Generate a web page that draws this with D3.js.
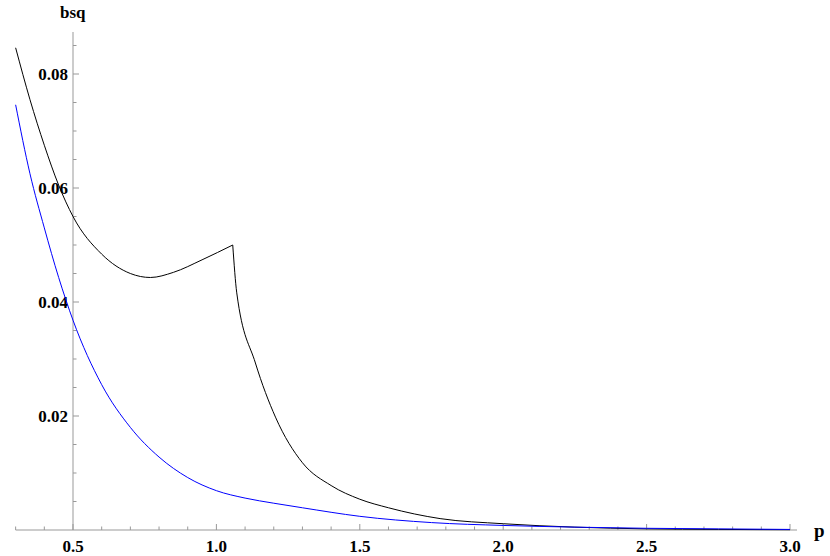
<!DOCTYPE html>
<meta charset="utf-8">
<title>bsq vs p</title>
<style>
body { margin: 0; background: #fff; }
text { font-family: "Liberation Serif", serif; font-weight: bold; }
</style>
<svg id="chart" width="830" height="556"></svg>
<script src="https://cdn.jsdelivr.net/npm/d3@7"></script>
<script>

// values
var blueP = [0.3, 0.35, 0.4, 0.45, 0.5, 0.6, 0.7, 0.8, 0.9, 1.0, 1.1, 1.2, 1.3, 1.5, 1.75, 2.0, 2.25, 2.5, 2.75, 3.0];
var blueB = [0.0746, 0.0625, 0.0530, 0.0443, 0.0368, 0.0255, 0.0180, 0.0128, 0.0092, 0.0069, 0.0056, 0.0047, 0.0039, 0.0024, 0.0013, 0.0008, 0.0005, 0.0003, 0.0002, 0.0001];

var blackP = [0.3, 0.35, 0.4, 0.45, 0.5, 0.6, 0.7, 0.77, 0.85, 0.95, 1.057, 1.071, 1.136, 1.206, 1.3, 1.4, 1.5, 1.6, 1.78, 2.0, 2.25, 2.5, 2.75, 3.0];
var blackB = [0.0846, 0.0755, 0.0675, 0.0605, 0.0550, 0.0484, 0.0450, 0.0443, 0.0452, 0.0474, 0.0500, 0.0416, 0.0293, 0.0198, 0.0118, 0.0078, 0.0054, 0.0039, 0.0020, 0.0011, 0.0005, 0.0002, 0.0001, 0.00005];

var xMajor = [0.5, 1.0, 1.5, 2.0, 2.5, 3.0];
var yMajor = [0.02, 0.04, 0.06, 0.08];

var svg = d3.select("#chart");

var x = d3.scaleLinear().domain([0.5, 3.0]).range([73, 790]);
var y = d3.scaleLinear().domain([0, 0.08]).range([530, 74]);

var axisColor = "#999";

// x axis line and ticks (ticks point up)
svg.append("line")
    .attr("x1", x(0.3)).attr("x2", 797)
    .attr("y1", y(0)).attr("y2", y(0))
    .attr("stroke", axisColor);

var xMinor = d3.range(3, 31).map(function(d) { return d / 10; });
svg.selectAll(".xt").data(xMinor).enter().append("line")
    .attr("x1", function(d) { return x(d); }).attr("x2", function(d) { return x(d); })
    .attr("y1", y(0))
    .attr("y2", function(d) { return y(0) - (Math.abs(d * 2 - Math.round(d * 2)) < 1e-6 ? 6 : 3.5); })
    .attr("stroke", axisColor);

svg.selectAll(".xl").data(xMajor).enter().append("text")
    .attr("x", function(d) { return x(d); })
    .attr("y", 552)
    .attr("text-anchor", "middle")
    .attr("font-size", 17)
    .text(function(d) { return d.toFixed(1); });

// y axis line and ticks (ticks point right)
svg.append("line")
    .attr("x1", x(0.5)).attr("x2", x(0.5))
    .attr("y1", y(0)).attr("y2", 32)
    .attr("stroke", axisColor);

var yMinor = d3.range(1, 18).map(function(d) { return d * 0.005; });
svg.selectAll(".yt").data(yMinor).enter().append("line")
    .attr("x1", x(0.5))
    .attr("x2", function(d, i) { return x(0.5) + ((i + 1) % 4 === 0 ? 6 : 3.5); })
    .attr("y1", function(d) { return y(d); }).attr("y2", function(d) { return y(d); })
    .attr("stroke", axisColor);

svg.selectAll(".yl").data(yMajor).enter().append("text")
    .attr("x", 68)
    .attr("y", function(d) { return y(d) + 6; })
    .attr("text-anchor", "end")
    .attr("font-size", 17)
    .text(function(d) { return d.toFixed(2); });

svg.append("text").attr("x", 60).attr("y", 18).attr("font-size", 17).text("bsq");
svg.append("text").attr("x", 814).attr("y", 537).attr("font-size", 19).text("p");

// curves
var line = d3.line()
    .x(function(d) { return x(d[0]); })
    .y(function(d) { return y(d[1]); })
    .curve(d3.curveMonotoneX);

function pairs(ps, bs) { return ps.map(function(p, i) { return [p, bs[i]]; }); }

var blackData = pairs(blackP, blackB);
// draw the black curve in two smooth pieces so the kink at the peak stays sharp
svg.append("path").datum(blackData.slice(0, 11))
    .attr("d", line).attr("fill", "none").attr("stroke", "#000").attr("stroke-width", 1);
svg.append("path").datum(blackData.slice(10))
    .attr("d", line).attr("fill", "none").attr("stroke", "#000").attr("stroke-width", 1);

svg.append("path").datum(pairs(blueP, blueB))
    .attr("d", line).attr("fill", "none").attr("stroke", "#00f").attr("stroke-width", 1);

</script>
